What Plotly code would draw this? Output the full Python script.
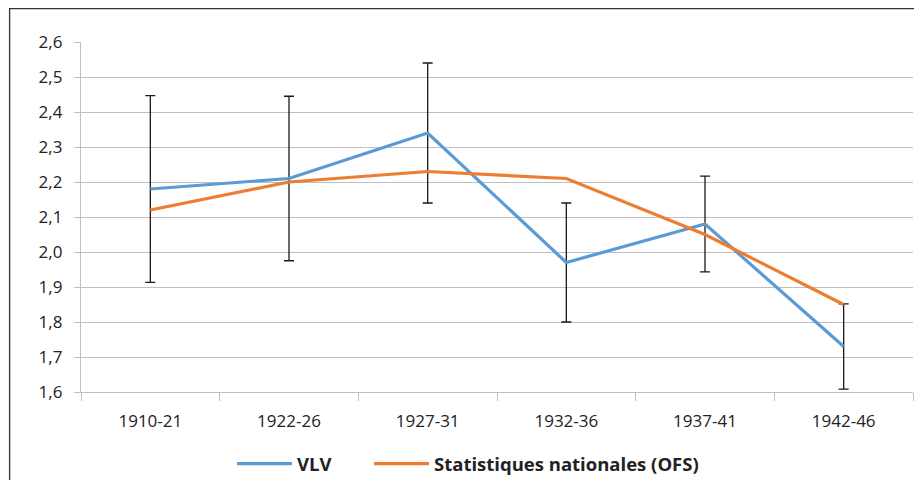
import plotly.graph_objects as go

categories = ["1910-21", "1922-26", "1927-31", "1932-36", "1937-41", "1942-46"]
vlv = [2.18, 2.21, 2.34, 1.97, 2.08, 1.73]
vlv_err = [0.267, 0.235, 0.20, 0.17, 0.137, 0.122]
ofs = [2.12, 2.20, 2.23, 2.21, 2.05, 1.85]
y_ticks = [1.6, 1.7, 1.8, 1.9, 2.0, 2.1, 2.2, 2.3, 2.4, 2.5, 2.6]

font_family = "Open Sans, Lato, sans-serif"

fig = go.Figure()
fig.add_trace(go.Scatter(
    x=categories, y=vlv, mode="lines", name="<b>VLV</b>",
    line=dict(color="#5B9BD5", width=3.2), legend="legend",
    error_y=dict(type="data", array=vlv_err, visible=True,
                 color="#1a1a1a", thickness=1.3, width=5),
))
fig.add_trace(go.Scatter(
    x=categories, y=ofs, mode="lines", name="<b>Statistiques nationales (OFS)</b>",
    line=dict(color="#ED7D31", width=3.2), legend="legend2",
))

# page body has an 8px offset; figure coordinates are screen - 8
OFF = 8
W, H = 906, 472
L, T = 81 - OFF, 42 - OFF
R = W - (913 - OFF)
B = H - (392 - OFF)
pw, ph = W - L - R, H - T - B

def px_x(sx):
    return (sx - OFF - L) / pw

def px_y(sy):
    return ((392 - sy)) / ph

leg_common = dict(orientation="h", xanchor="left", yanchor="middle",
                  y=px_y(464), font=dict(size=18.5, color="#222222"),
                  itemwidth=55, bgcolor="rgba(0,0,0,0)")

fig.update_layout(
    width=W, height=H,
    margin=dict(l=L, r=R, t=T, b=B, autoexpand=False),
    paper_bgcolor="white", plot_bgcolor="white",
    separators=", ",
    font=dict(family=font_family, size=16, color="#222222"),
    showlegend=True,
    legend=dict(x=px_x(232), **leg_common),
    legend2=dict(x=px_x(369), **leg_common),
    xaxis=dict(type="category", showgrid=False, showline=True,
               linecolor="#BFBFBF", linewidth=1.3,
               ticks="outside", tickson="boundaries", ticklen=8,
               tickcolor="#BFBFBF", tickwidth=1.3,
               ticklabelstandoff=13,
               tickfont=dict(size=17, color="#222222"),
               range=[-0.5, 5.5]),
    yaxis=dict(range=[1.6, 2.6], tickvals=y_ticks, tickformat=".1f",
               showgrid=True, gridcolor="#BFBFBF", gridwidth=1.3,
               showline=True, linecolor="#BFBFBF", linewidth=1.3,
               ticks="outside", ticklen=6, tickcolor="#BFBFBF", tickwidth=1.3,
               ticklabelstandoff=8,
               zeroline=False, tickfont=dict(size=17, color="#222222")),
    shapes=[
        dict(type="line", xref="paper", yref="paper",
             x0=px_x(9), x1=px_x(940), y0=px_y(8.6), y1=px_y(8.6),
             line=dict(color="#333333", width=1.3), layer="above"),
        dict(type="line", xref="paper", yref="paper",
             x0=px_x(9.6), x1=px_x(9.6), y0=px_y(8), y1=px_y(500),
             line=dict(color="#333333", width=1.3), layer="above"),
    ],
)

fig.write_html("out.html")
